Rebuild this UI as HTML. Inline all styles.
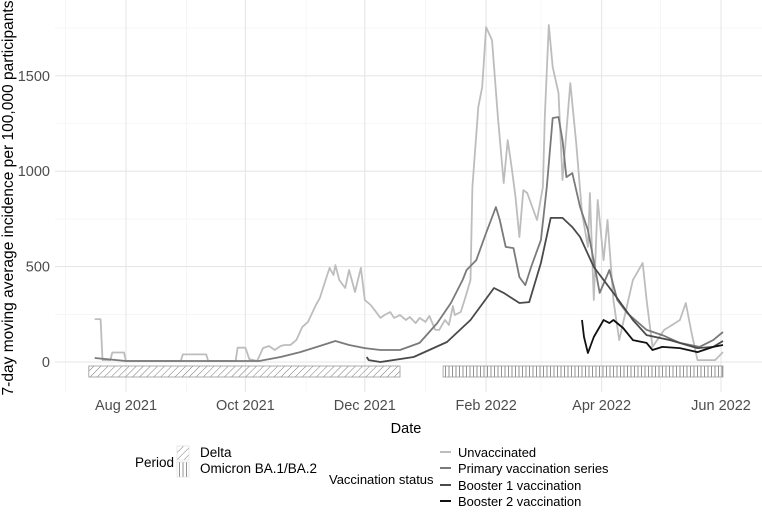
<!DOCTYPE html>
<html><head><meta charset="utf-8"><style>
body{margin:0;background:#fff;font-family:"Liberation Sans",sans-serif;}
svg text{font-family:"Liberation Sans",sans-serif;}
</style></head><body>
<svg id="chart" width="762" height="508" viewBox="0 0 762 508" xmlns="http://www.w3.org/2000/svg">
<defs>
<pattern id="hatchD" patternUnits="userSpaceOnUse" width="5" height="5" patternTransform="rotate(45)"><line x1="0" y1="0" x2="0" y2="5" stroke="#777" stroke-width="1"/></pattern>
<pattern id="hatchO" patternUnits="userSpaceOnUse" width="3.5" height="5"><line x1="1" y1="0" x2="1" y2="5" stroke="#777" stroke-width="0.8"/></pattern>
</defs>
<g id="grid"></g>
<g id="bands"></g>
<g id="lines"></g>
<g id="axes"></g>
<text x="406" y="433" font-size="14.5" text-anchor="middle" fill="#000">Date</text>
<text transform="translate(13,198) rotate(-90)" font-size="15.5" text-anchor="middle" fill="#000" textLength="395" lengthAdjust="spacingAndGlyphs">7-day moving average incidence per 100,000 participants</text>
<g>
<text x="135" y="467" font-size="13.5">Period</text>
<rect x="177" y="446" width="12" height="14" fill="url(#hatchD)" stroke="#ddd" stroke-width="0.6"/>
<rect x="177" y="462" width="12" height="15" fill="url(#hatchO)" stroke="#ddd" stroke-width="0.6"/>
<text x="200" y="457" font-size="13.5">Delta</text>
<text x="200" y="473" font-size="13.5">Omicron BA.1/BA.2</text>
</g>
<g>
<text x="329" y="484" font-size="13">Vaccination status</text>
<line x1="440" x2="451" y1="452" y2="452" stroke="#bdbdbd" stroke-width="2"/>
<line x1="440" x2="451" y1="468" y2="468" stroke="#7a7a7a" stroke-width="2"/>
<line x1="440" x2="451" y1="485" y2="485" stroke="#4a4a4a" stroke-width="2"/>
<line x1="440" x2="451" y1="501" y2="501" stroke="#111" stroke-width="2"/>
<text x="458" y="457" font-size="12.9">Unvaccinated</text>
<text x="458" y="473" font-size="12.9">Primary vaccination series</text>
<text x="458" y="490" font-size="12.9">Booster 1 vaccination</text>
<text x="458" y="506" font-size="12.9">Booster 2 vaccination</text>
</g>
</svg>
<script>
// days since 2021-08-01
const unvaxDays=[-16,-13,-12,-8,-7,-1,0,28,29,41,42,56,57,61,63,67,70,73,76,79,81,84,87,90,93,97,99,102,104,106,107,109,112,114,117,120,122,125,127,130,132,135,137,140,143,145,148,150,153,155,158,160,163,165,167,168,171,173,176,177,180,182,184,187,190,193,195,197,199,201,203,205,210,213,214,216,218,221,223,227,230,233,236,237,239,241,244,246,249,252,259,264,266,269,275,279,283,286,289,292,301,305];
const unvaxVals=[225,225,10,10,50,50,5,5,40,40,5,5,75,75,15,5,73,84,63,84,89,89,115,183,210,299,335,430,493,456,508,430,388,482,367,493,325,299,272,231,246,262,231,246,220,236,204,231,210,241,168,168,220,194,293,246,262,325,430,917,1336,1441,1755,1687,1284,938,1163,1022,865,655,901,886,744,917,1284,1766,1546,1410,954,1462,1148,781,603,886,325,849,534,744,325,115,430,519,325,79,168,194,220,309,152,10,10,52];
const primDays=[-16,0,68,79,89,99,107,114,122,130,140,150,159,166,172,174,179,184,189,191,194,198,201,204,207,212,215,218,221,223,225,228,232,236,242,247,251,256,266,274,283,293,300,305];
const primVals=[21,5,5,26,52,84,110,89,73,63,63,100,204,309,430,482,534,676,812,744,603,597,445,403,498,639,917,1279,1284,1163,969,990,812,692,362,482,325,257,168,141,100,79,115,157];
const b1Days=[123,124,130,147,164,176,188,193,201,206,212,217,223,228,232,239,249,259,266,278,292,300,305];
const b1Vals=[26,10,0,26,105,220,388,362,309,314,519,755,755,707,655,498,362,220,141,115,73,79,110];
const b2Days=[233,234,236,239,244,247,249,254,259,266,269,274,283,292,300,305];
const b2Vals=[220,131,47,131,220,204,220,178,115,100,63,79,73,52,79,89];
const yTicks=[0,500,1000,1500];
const yMinor=[250,750,1250,1750];
const xTickLabels=["Aug 2021","Oct 2021","Dec 2021","Feb 2022","Apr 2022","Jun 2022"];
const xTickDays=[0,61,122,184,243,304];
const xMinorDays=[-31,31,92,153,212,273];
const periodNames=["Delta","Omicron BA.1/BA.2"];
const periodStart=[-19,162];
const periodEnd=[140,305];

const NS="http://www.w3.org/2000/svg";
const X0=126,XK=595/304,Y0=362,YK=0.1908,PL=55,PR=762,PT=0,PB=392;
const xs=d=>X0+d*XK, ys=v=>Y0-v*YK;
function mk(tag,attrs,parent){const e=document.createElementNS(NS,tag);for(const k in attrs)e.setAttribute(k,attrs[k]);parent.appendChild(e);return e;}
const grid=document.getElementById('grid'),axes=document.getElementById('axes'),bands=document.getElementById('bands'),lines=document.getElementById('lines');
yMinor.forEach(v=>{const l=mk('line',{x1:PL,x2:PR,y1:ys(v),y2:ys(v),stroke:'#f0f0f0','stroke-width':0.6},grid);

});
xMinorDays.forEach(d=>{const l=mk('line',{x1:xs(d),x2:xs(d),y1:PT,y2:PB,stroke:'#f0f0f0','stroke-width':0.6},grid);

});
yTicks.forEach(v=>{const l=mk('line',{x1:PL,x2:PR,y1:ys(v),y2:ys(v),stroke:'#e6e6e6','stroke-width':1.1},grid);


const t=mk('text',{x:50,y:ys(v)+5,'font-size':14.5,'text-anchor':'end',fill:'#4d4d4d'},axes);t.textContent=v;

});
xTickDays.forEach((d,i)=>{const l=mk('line',{x1:xs(d),x2:xs(d),y1:PT,y2:PB,stroke:'#e6e6e6','stroke-width':1.1},grid);


const t=mk('text',{x:xs(d),y:410,'font-size':14.5,'text-anchor':'middle',fill:'#4d4d4d'},axes);t.textContent=xTickLabels[i];

});
periodNames.forEach((n,i)=>{const r=mk('rect',{x:xs(periodStart[i]),y:366,width:xs(periodEnd[i])-xs(periodStart[i]),height:11,fill:i?'url(#hatchO)':'url(#hatchD)',stroke:'#999','stroke-width':0.8},bands);

});
function series(days,vals,color,name){const p=days.map((d,i)=>(i?'L':'M')+xs(d).toFixed(1)+','+ys(vals[i]).toFixed(1)).join('');
const e=mk('path',{d:p,fill:'none',stroke:color,'stroke-width':1.8,'stroke-linejoin':'round'},lines);

}
series(unvaxDays,unvaxVals,'#bdbdbd','unvaccinated-line');
series(primDays,primVals,'#7a7a7a','primary-series-line');
series(b1Days,b1Vals,'#4a4a4a','booster-1-line');
series(b2Days,b2Vals,'#111','booster-2-line');
</script>
</body></html>
